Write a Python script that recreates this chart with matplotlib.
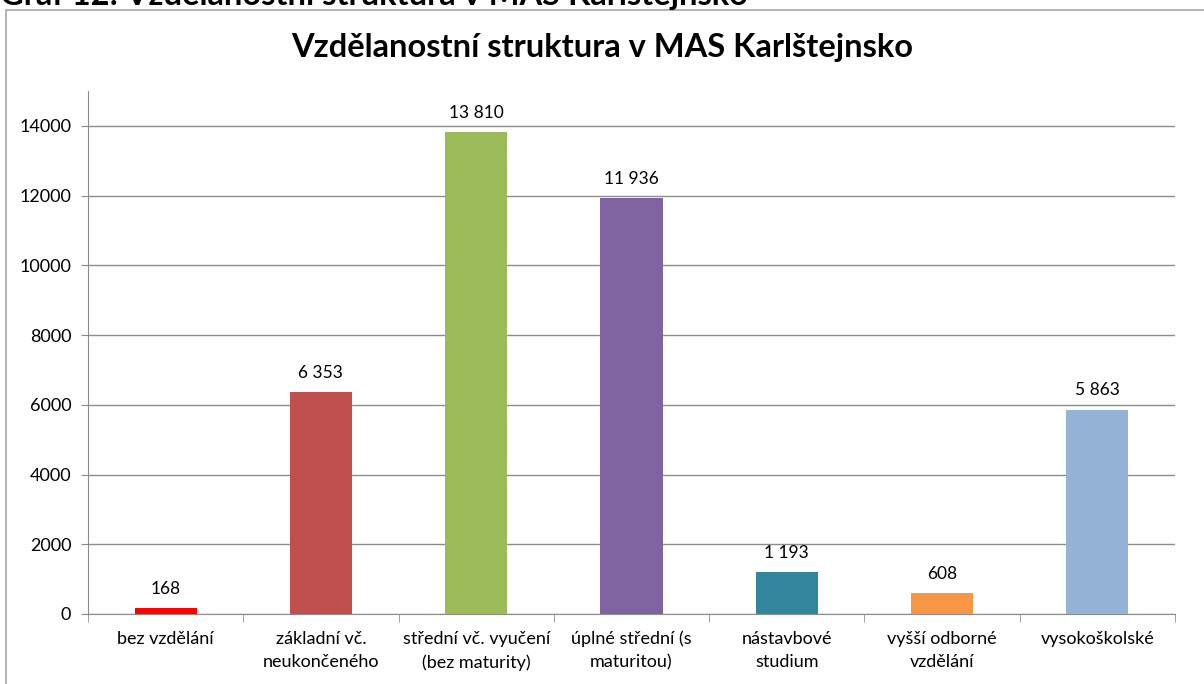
import matplotlib
matplotlib.use("Agg")
import matplotlib.pyplot as plt
from matplotlib.patches import Rectangle

categories = ["bez vzdělání", "základní vč.\nneukončeného", "střední vč. vyučení\n(bez maturity)",
              "úplné střední (s\nmaturitou)", "nástavbové\nstudium", "vyšší odborné\nvzdělání",
              "vysokoškolské"]
values = [168, 6353, 13810, 11936, 1193, 608, 5863]
colors = ["#FF0000", "#C0504D", "#9BBB59", "#8064A2", "#31859C", "#F79646", "#95B3D7"]
yticks = [0, 2000, 4000, 6000, 8000, 10000, 12000, 14000]

plt.rcParams['font.family'] = ['Lato', 'DejaVu Sans']

fig = plt.figure(figsize=(12.04, 6.84), dpi=100)
fig.patch.set_facecolor("white")

# outer frame
fig.patches.append(Rectangle((6/1204, -0.05), 1.1, 1 - 10/684 + 0.05, transform=fig.transFigure,
                             fill=False, edgecolor="#A6A6A6", linewidth=1.2))

# cropped caption at the very top
fig.text(0.0, 1 - 4.5/684, "Graf 12: Vzdělanostní struktura v MAS Karlštejnsko", fontsize=23.5,
         fontweight="bold", ha="left", va="baseline", color="black")

ax = fig.add_axes([88/1204, 1 - 614/684, (1175 - 88)/1204, (614 - 91)/684])
x = range(len(categories))
ax.bar(x, values, width=0.4, color=colors, zorder=3)
ax.set_xlim(-0.5, len(categories) - 0.5)
ax.set_ylim(0, 15000)
ax.set_yticks(yticks)
ax.set_yticklabels([str(v) for v in yticks], fontsize=13)
ax.yaxis.grid(True, color="#8C8C8C", linewidth=1, zorder=0)
ax.set_xticks(list(x))
ax.set_xticklabels(categories, fontsize=13, linespacing=1.55)
ax.tick_params(axis="x", length=0, pad=12)
ax.tick_params(axis="y", length=5, color="#8C8C8C", pad=7)
# category boundary ticks
ax.set_xticks([i - 0.5 for i in range(len(categories) + 1)], minor=True)
ax.tick_params(axis="x", which="minor", length=6, color="#8C8C8C")
for s in ["top", "right"]:
    ax.spines[s].set_visible(False)
for s in ["left", "bottom"]:
    ax.spines[s].set_color("#8C8C8C")

for i, v in enumerate(values):
    ax.annotate(f"{v:,}".replace(",", " "), (i, v), xytext=(0, 8), textcoords="offset points",
                ha="center", va="bottom", fontsize=12.5)

fig.text(0.5, 1 - 57/684, "Vzdělanostní struktura v MAS Karlštejnsko", fontsize=23.5,
         fontweight="bold", ha="center", va="baseline")

fig.savefig("out.png", dpi=100)
